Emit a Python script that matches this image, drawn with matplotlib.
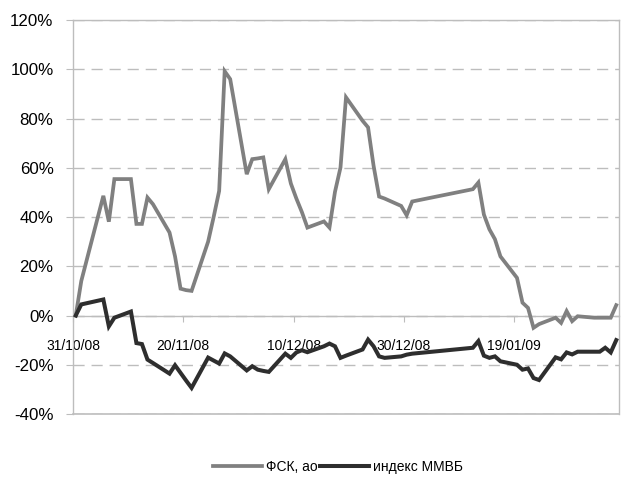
import matplotlib
matplotlib.use("Agg")
import matplotlib.pyplot as plt
import pandas as pd
from datetime import timedelta

plt.rcParams['font.family'] = ['Liberation Sans', 'DejaVu Sans']

dates = ["31.10.08", "01.11.08", "05.11.08", "06.11.08", "07.11.08", "10.11.08",
         "11.11.08", "12.11.08", "13.11.08", "14.11.08", "17.11.08", "18.11.08",
         "19.11.08", "20.11.08", "21.11.08", "24.11.08", "25.11.08", "26.11.08",
         "27.11.08", "28.11.08", "01.12.08", "02.12.08", "03.12.08", "04.12.08",
         "05.12.08", "08.12.08", "09.12.08", "10.12.08", "11.12.08", "12.12.08",
         "15.12.08", "16.12.08", "17.12.08", "18.12.08", "19.12.08", "22.12.08",
         "23.12.08", "24.12.08", "25.12.08", "26.12.08", "29.12.08", "30.12.08",
         "31.12.08", "11.01.09", "12.01.09", "13.01.09", "14.01.09", "15.01.09",
         "16.01.09", "19.01.09", "20.01.09", "21.01.09", "22.01.09", "23.01.09",
         "26.01.09", "27.01.09", "28.01.09", "29.01.09", "30.01.09", "02.02.09",
         "03.02.09", "04.02.09", "05.02.09", "06.02.09"]

fsk = [0, 14, 48.6, 38.1, 55.4, 55.4,
       37.2, 37.2, 47.9, 45.2, 33.7, 24,
       10.9, 10.3, 10.0, 30, 40, 50.6,
       99.2, 96, 57.4, 63.5, 63.8, 64.2,
       51.3, 63.5, 53.6, 47.5, 42, 35.7,
       38.2, 35.7, 50.2, 60.1, 88.6, 79.1,
       76.4, 60.8, 48.3, 47.5, 44.5, 40.7,
       46.3, 51.3, 54, 41, 35, 31,
       24, 15.3, 5.2, 3.1, -5, -3.5,
       -0.9, -3, 1.8, -2.3, -0.3, -0.9,
       -0.9, -0.9, -0.9, 4.2]

micex = [0, 4.5, 6.5, -4.4, -0.9, 1.6,
         -11.2, -11.6, -17.9, -19.3, -23.6, -20.2,
         -23.3, -26.4, -29.4, -17.1, -18.3, -19.5,
         -15.4, -16.6, -22.3, -20.6, -22, -22.5,
         -22.9, -15.5, -17.2, -15, -14.1, -14.9,
         -12.5, -11.4, -12.5, -17.2, -16.3, -13.8,
         -9.8, -12.5, -16.6, -17.2, -16.6, -15.9,
         -15.5, -13.1, -10.4, -16.3, -17.2, -16.6,
         -18.6, -20, -22, -21.5, -25.4, -26.2,
         -17, -17.8, -15, -15.8, -14.7, -14.7,
         -14.7, -13.1, -15, -10]

series_names = ["ФСК, ао", "индекс ММВБ"]
y_ticks = [-40, -20, 0, 20, 40, 60, 80, 100, 120]

x = pd.to_datetime(dates, format="%d.%m.%y")
frame_col = "#bdbdbd"

fig = plt.figure(figsize=(6.24, 4.8), dpi=100)
ax = fig.add_axes([0.117, 0.1375, 0.875, 0.8208])

ax.plot(x, fsk, color="#808080", lw=2.7, label=series_names[0], zorder=3,
        solid_joinstyle="miter")
ax.plot(x, micex, color="#2e2e2e", lw=2.9, label=series_names[1], zorder=3,
        solid_joinstyle="miter")

# excel date axis, points sit in the middle of each day slot
half = timedelta(hours=12)
ax.set_xlim(x[0] - half, x[-1] + half)
ax.set_ylim(-40, 120)

tick_dates = [x[0] + timedelta(days=20 * k) for k in range(5)]
ax.set_xticks([t - half for t in tick_dates])
ax.set_xticklabels([t.strftime("%d/%m/%y") for t in tick_dates], fontsize=12.8)

ax.set_yticks(y_ticks)
ax.set_yticklabels([f"{v}%" for v in y_ticks], fontsize=12.2)

ax.grid(axis="y", color=frame_col, lw=1, ls=(0, (8, 5)))
ax.set_axisbelow(True)

for s in ["top", "right", "left"]:
    ax.spines[s].set_color(frame_col)
    ax.spines[s].set_linewidth(1)
ax.spines["bottom"].set_position(("data", 0))
ax.spines["bottom"].set_color(frame_col)
ax.spines["bottom"].set_linewidth(1)
ax.axhline(-40, color=frame_col, lw=1.2, zorder=2.6, clip_on=False)

ax.tick_params(axis="x", direction="out", length=4, color=frame_col, pad=13)
ax.tick_params(axis="y", direction="out", length=5, color=frame_col, pad=9)

fig.legend(loc="center", bbox_to_anchor=(338 / 624, 13 / 480), ncol=2,
           frameon=False, fontsize=10, handlelength=3.5, handletextpad=0.3,
           columnspacing=0.2)

fig.savefig("out.png", dpi=100)
